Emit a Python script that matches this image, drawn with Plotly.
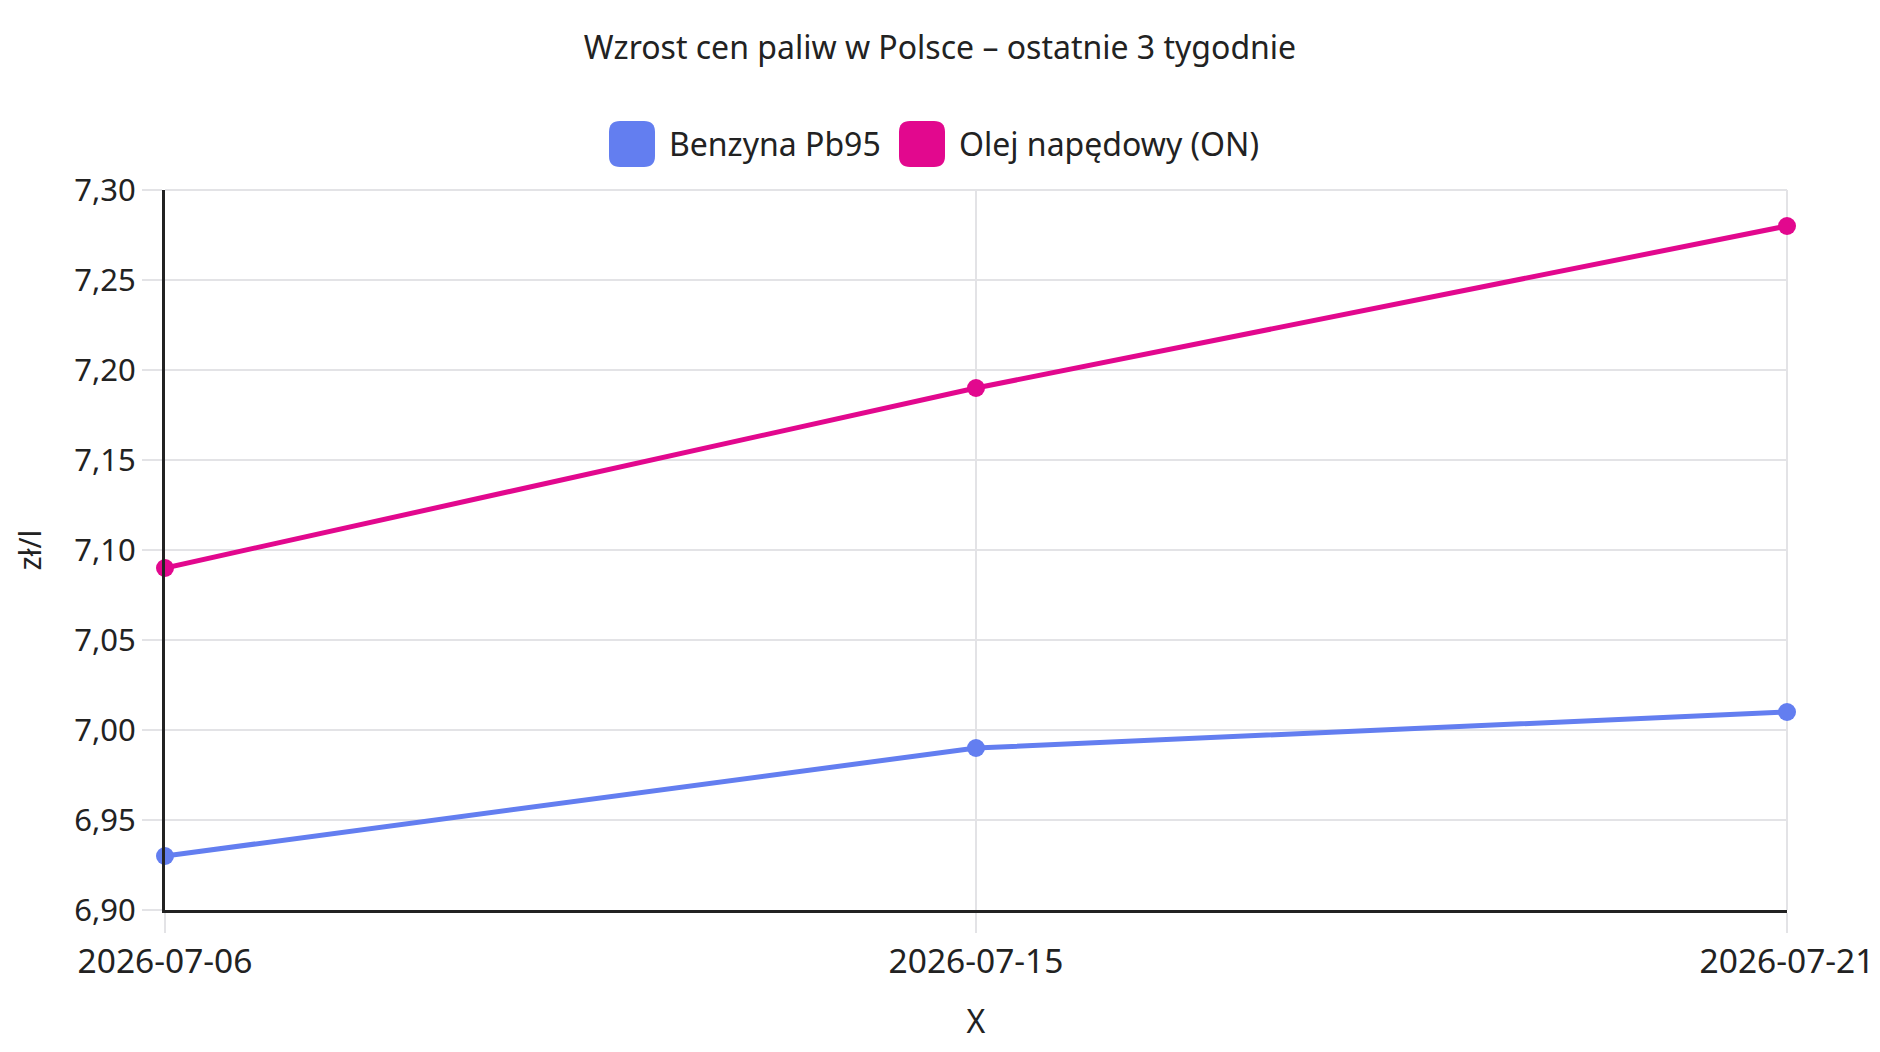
import plotly.graph_objects as go

# ---- data ----
dates = ["2026-07-06", "2026-07-15", "2026-07-21"]
pb95 = [6.93, 6.99, 7.01]
on_diesel = [7.09, 7.19, 7.28]
series_names = ["Benzyna Pb95", "Olej napędowy (ON)"]
colors = ["#637ef0", "#e2088e"]
y_ticks = [6.90, 6.95, 7.00, 7.05, 7.10, 7.15, 7.20, 7.25, 7.30]

W, H = 1880, 1052
L, R, T, B = 165, 1787, 190, 910
PW, PH = R - L, B - T
FONT = "Segoe UI, Noto Sans, Open Sans, sans-serif"
TXT = "#222222"
GRID = "#e3e3e6"

def px2paper(x, y):
    return (x - L) / PW, (B - y) / PH

def rounded_rect(x0, y0, x1, y1, r):
    def P(x, y):
        px, py = px2paper(x, y)
        return f"{px:.5f},{py:.5f}"
    d = (f"M {P(x0 + r, y0)} L {P(x1 - r, y0)} Q {P(x1, y0)} {P(x1, y0 + r)} "
         f"L {P(x1, y1 - r)} Q {P(x1, y1)} {P(x1 - r, y1)} "
         f"L {P(x0 + r, y1)} Q {P(x0, y1)} {P(x0, y1 - r)} "
         f"L {P(x0, y0 + r)} Q {P(x0, y0)} {P(x0 + r, y0)} Z")
    return d

fig = go.Figure()
for name, vals, col in zip(series_names, [pb95, on_diesel], colors):
    fig.add_trace(go.Scatter(
        x=dates, y=vals, name=name, mode="lines+markers",
        line=dict(color=col, width=5),
        marker=dict(color=col, size=18),
        showlegend=False, cliponaxis=False,
    ))

# frame gridlines on top and right edges (drawn below data)
shapes = [
    dict(type="line", xref="paper", yref="paper", x0=0, x1=1, y0=1, y1=1,
         line=dict(color=GRID, width=2), layer="below"),
    dict(type="line", xref="paper", yref="paper", x0=1, x1=1, y0=0, y1=1,
         line=dict(color=GRID, width=2), layer="below"),
]

# custom legend (rounded swatches)
legend_items = [(609, 667), (899, 957)]
annotations = []
for (sx, tx), name, col in zip(legend_items, series_names, colors):
    shapes.append(dict(type="path", xref="paper", yref="paper",
                       path=rounded_rect(sx, 121, sx + 46, 167, 11),
                       fillcolor=col, line=dict(width=0)))
    ax, ay = px2paper(tx, 143)
    annotations.append(dict(text=name, xref="paper", yref="paper", x=ax, y=ay,
                            xanchor="left", yanchor="middle", showarrow=False,
                            font=dict(size=32, color=TXT, family=FONT)))

fig.update_layout(
    width=W, height=H,
    margin=dict(l=L, r=W - R, t=T, b=H - B, autoexpand=False),
    paper_bgcolor="white", plot_bgcolor="white",
    separators=", ",
    font=dict(family=FONT, color=TXT, size=32),
    title=dict(text="Wzrost cen paliw w Polsce – ostatnie 3 tygodnie",
               x=0.5, xanchor="center", y=1 - 48 / H, yanchor="middle",
               font=dict(size=32, color=TXT, family=FONT)),
    shapes=shapes, annotations=annotations,
    xaxis=dict(type="category", range=[0, 2], showgrid=True, gridcolor=GRID, gridwidth=2,
               showline=True, linecolor=TXT, linewidth=3, automargin=False,
               ticks="outside", ticklen=20, tickcolor=GRID, tickwidth=2,
               tickfont=dict(size=33.5, color=TXT), zeroline=False,
               title=dict(text="X", font=dict(size=32, color=TXT), standoff=29)),
    yaxis=dict(range=[6.9, 7.3], tickvals=y_ticks, tickformat=".2f",
               showgrid=True, gridcolor=GRID, gridwidth=2,
               showline=True, linecolor=TXT, linewidth=3, automargin=False,
               ticks="outside", ticklen=20, tickcolor=GRID, tickwidth=2,
               tickfont=dict(size=31, color=TXT), zeroline=False,
               title=dict(text="zł/l", font=dict(size=30, color=TXT), standoff=24)),
)

fig.write_html("out.html")
